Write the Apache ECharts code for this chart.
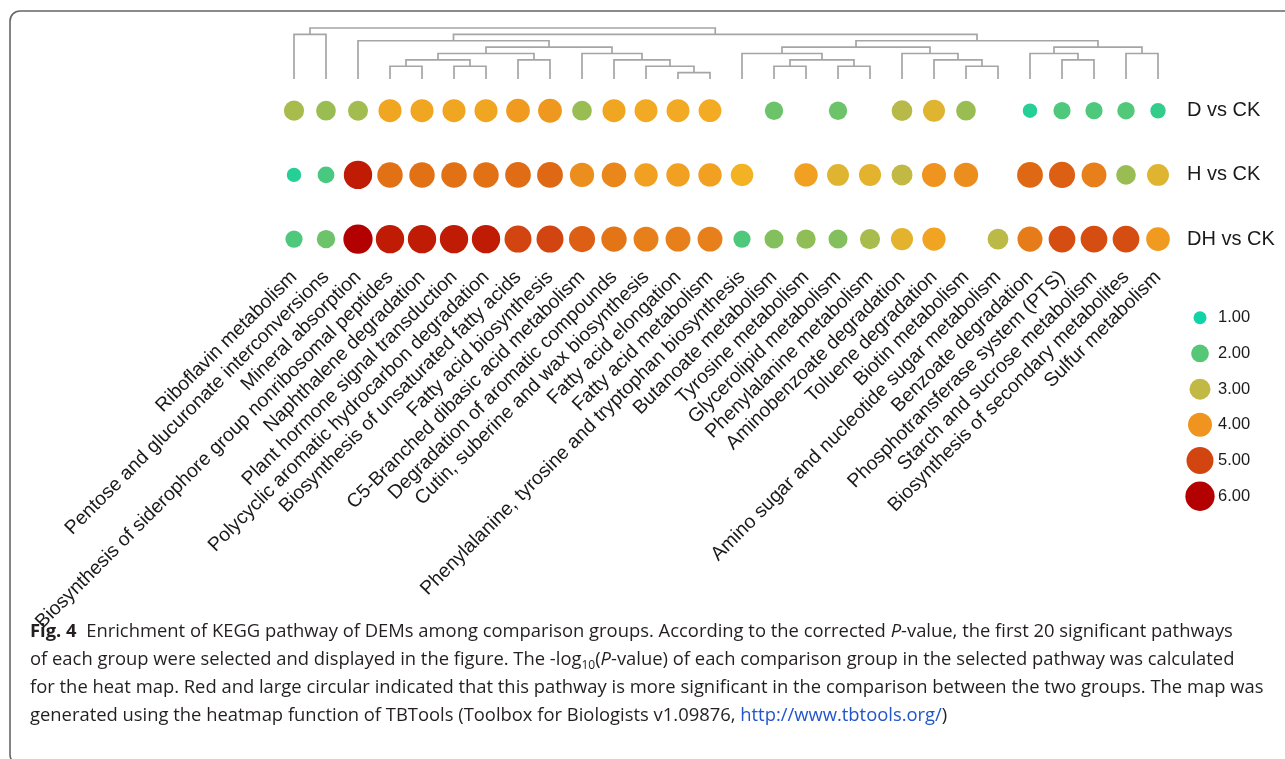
<!DOCTYPE html>
<html>
<head>
<meta charset="utf-8">
<script src="https://cdn.jsdelivr.net/npm/echarts@6/dist/echarts.min.js"></script>
<style>
  html, body { margin: 0; padding: 0; background: #fff; }
  #chart { width: 1285px; height: 759px; }
</style>
</head>
<body>
<div id="chart"></div>
<script>
// KEGG pathways (columns, in dendrogram order)
const pathways = [
  'Riboflavin metabolism',
  'Pentose and glucuronate interconversions',
  'Mineral absorption',
  'Biosynthesis of siderophore group nonribosomal peptides',
  'Naphthalene degradation',
  'Plant hormone signal transduction',
  'Polycyclic aromatic hydrocarbon degradation',
  'Biosynthesis of unsaturated fatty acids',
  'Fatty acid biosynthesis',
  'C5-Branched dibasic acid metabolism',
  'Degradation of aromatic compounds',
  'Cutin, suberine and wax biosynthesis',
  'Fatty acid elongation',
  'Fatty acid metabolism',
  'Phenylalanine, tyrosine and tryptophan biosynthesis',
  'Butanoate metabolism',
  'Tyrosine metabolism',
  'Glycerolipid metabolism',
  'Phenylalanine metabolism',
  'Aminobenzoate degradation',
  'Toluene degradation',
  'Biotin metabolism',
  'Amino sugar and nucleotide sugar metabolism',
  'Benzoate degradation',
  'Phosphotransferase system (PTS)',
  'Starch and sucrose metabolism',
  'Biosynthesis of secondary metabolites',
  'Sulfur metabolism'
];

// Comparison groups (rows)
const groups = ['D vs CK', 'H vs CK', 'DH vs CK'];

// -log10(P-value) per pathway; null = not among the selected pathways of that group
const dVsCk = [2.75, 2.6, 2.7, 3.7, 3.7, 3.7, 3.7, 3.9, 3.95, 2.6, 3.7, 3.65, 3.65, 3.6,
  null, 2.2, null, 2.2, null, 2.9, 3.3, 2.6, null, 1.3, 1.9, 1.9, 1.95, 1.5];
const hVsCk = [1.3, 1.8, 5.6, 4.5, 4.5, 4.5, 4.5, 4.55, 4.6, 4.1, 4.2, 3.8, 3.8, 3.8,
  3.5, null, 3.8, 3.3, 3.35, 3.0, 4.0, 4.1, null, 4.6, 4.7, 4.3, 2.6, 3.3];
const dhVsCk = [1.9, 2.2, 6.0, 5.6, 5.6, 5.6, 5.6, 5.0, 5.0, 4.7, 4.45, 4.3, 4.3, 4.3,
  1.9, 2.4, 2.5, 2.4, 2.75, 3.35, 3.75, null, 2.95, 4.35, 4.9, 4.9, 4.9, 3.9];

// Legend steps
const legendValues = [1, 2, 3, 4, 5, 6];

// Column dendrogram: each merge joins two nodes at a height level.
// Leaves are 0..27; each merge creates node 28, 29, ...
const merges = [
  [0, 1, 7],    // 28
  [3, 4, 2],    // 29
  [5, 6, 2],    // 30
  [29, 30, 3],  // 31
  [7, 8, 3],    // 32
  [31, 32, 4],  // 33
  [12, 13, 1],  // 34
  [11, 34, 2],  // 35
  [10, 35, 3],  // 36
  [9, 36, 4],   // 37
  [33, 37, 5],  // 38
  [2, 38, 6],   // 39
  [15, 16, 2],  // 40
  [17, 18, 2],  // 41
  [40, 41, 3],  // 42
  [14, 42, 4],  // 43
  [21, 22, 2],  // 44
  [20, 44, 3],  // 45
  [19, 45, 4],  // 46
  [43, 46, 5],  // 47
  [24, 25, 3],  // 48
  [23, 48, 4],  // 49
  [26, 27, 4],  // 50
  [49, 50, 5],  // 51
  [47, 51, 6],  // 52
  [39, 52, 7],  // 53
  [28, 53, 8]   // 54
];

// ---- derived structures ----
const rowsData = [dVsCk, hVsCk, dhVsCk];
const cells = [];
rowsData.forEach((row, r) => {
  row.forEach((v, c) => { if (v != null) cells.push([c, r, v]); });
});

// node positions (column units) and heights for dendrogram segments
const nodeX = pathways.map((_, i) => i);
const nodeH = pathways.map(() => 0);
const treeSegments = merges.map(([a, b, h]) => {
  const seg = [nodeX[a], nodeH[a], nodeX[b], nodeH[b], h];
  nodeX.push((nodeX[a] + nodeX[b]) / 2);
  nodeH.push(h);
  return seg;
});

// symbol diameter for a value (piecewise linear through the legend steps)
const sizeStops = [13, 17.7, 21, 24, 27, 29.3];
function sizeFor(v) {
  const t = Math.max(1, Math.min(6, v)) - 1;
  const i = Math.min(4, Math.floor(t));
  const f = t - i;
  return sizeStops[i] + (sizeStops[i + 1] - sizeStops[i]) * f;
}

const chart = echarts.init(document.getElementById('chart'), null, { renderer: 'canvas' });
const labelFont = 'Liberation Sans, Arial, Helvetica, sans-serif';
const captionFont = 'Open Sans, Noto Sans, sans-serif';
const capSize = 18.4;
const capBase = { fontFamily: captionFont, fontSize: capSize, fill: '#231f20', lineHeight: 24 };
const capRich = {
  b: { fontFamily: captionFont, fontSize: capSize, fontWeight: 'bold', fill: '#231f20', lineHeight: 24 },
  i: { fontFamily: captionFont, fontSize: capSize, fontStyle: 'italic', fill: '#231f20', lineHeight: 24 },
  sub: { fontFamily: captionFont, fontSize: 12, fill: '#231f20', lineHeight: 12, verticalAlign: 'bottom' },
  a: { fontFamily: captionFont, fontSize: capSize, fill: '#2255cc', lineHeight: 24 }
};
const captionLines = [
  '{b|Fig. 4}  Enrichment of KEGG pathway of DEMs among comparison groups. According to the corrected {i|P}-value, the first 20 significant pathways',
  'of each group were selected and displayed in the figure. The -log{sub|10}({i|P}-value) of each comparison group in the selected pathway was calculated',
  'for the heat map. Red and large circular indicated that this pathway is more significant in the comparison between the two groups. The map was',
  'generated using the heatmap function of TBTools (Toolbox for Biologists v1.09876, {a|http://www.tbtools.org/})'
];

const option = {
  animation: false,
  backgroundColor: '#ffffff',
  grid: [
    { left: 278, width: 896, top: 78.6, height: 192.6, outerBoundsMode: 'none' },   // bubbles
    { left: 278, width: 896, top: 28, height: 51, outerBoundsMode: 'none' },        // dendrogram
    { left: 1190, width: 20, top: 299.9, height: 214.2, outerBoundsMode: 'none' }   // legend
  ],
  xAxis: [
    {
      gridIndex: 0, type: 'category', data: pathways,
      axisLine: { show: false }, axisTick: { show: false }, splitLine: { show: false },
      axisLabel: { interval: 0, rotate: 45, margin: 3, fontSize: 19.5, color: '#1a1a1a', fontFamily: labelFont }
    },
    { gridIndex: 1, type: 'value', min: -0.5, max: 27.5, show: false },
    { gridIndex: 2, type: 'value', min: 0, max: 1, show: false }
  ],
  yAxis: [
    {
      gridIndex: 0, type: 'category', data: groups, inverse: true, position: 'right',
      axisLine: { show: false }, axisTick: { show: false }, splitLine: { show: false },
      axisLabel: { margin: 13, fontSize: 20, color: '#1a1a1a', fontFamily: labelFont }
    },
    { gridIndex: 1, type: 'value', min: 0, max: 8, show: false },
    {
      gridIndex: 2, type: 'category', data: legendValues.map(v => v.toFixed(2)), inverse: true, position: 'right',
      axisLine: { show: false }, axisTick: { show: false }, splitLine: { show: false },
      axisLabel: { margin: 8, fontSize: 16.5, color: '#1a1a1a', fontFamily: labelFont }
    }
  ],
  visualMap: {
    show: false, type: 'continuous', min: 1, max: 6, dimension: 2, seriesIndex: [0, 2],
    inRange: {
      color: ['#10d3a6', '#34cc8a', '#55c777', '#8fbe56', '#c1b944', '#f3b124',
              '#ef951f', '#e27116', '#d24410', '#c32206', '#b30000']
    }
  },
  series: [
    {
      type: 'scatter', xAxisIndex: 0, yAxisIndex: 0,
      symbol: 'circle',
      symbolSize: val => sizeFor(val[2]),
      itemStyle: { opacity: 1 },
      data: cells,
      silent: true
    },
    {
      type: 'custom', xAxisIndex: 1, yAxisIndex: 1, silent: true,
      data: treeSegments,
      encode: { x: [0, 2], y: [1, 3, 4] },
      renderItem: (params, api) => {
        const p0 = api.coord([api.value(0), api.value(1)]);
        const p1 = api.coord([api.value(0), api.value(4)]);
        const p2 = api.coord([api.value(2), api.value(4)]);
        const p3 = api.coord([api.value(2), api.value(3)]);
        return {
          type: 'polyline',
          shape: { points: [p0, p1, p2, p3] },
          style: { stroke: '#a5a5a5', lineWidth: 1.7, fill: null }
        };
      }
    },
    {
      type: 'scatter', xAxisIndex: 2, yAxisIndex: 2,
      symbol: 'circle',
      symbolSize: val => sizeFor(val[2]),
      itemStyle: { opacity: 1 },
      data: legendValues.map((v, i) => [0.5, i, v]),
      silent: true
    }
  ],
  graphic: [
    {
      type: 'rect', silent: true,
      shape: { x: 10, y: 11, width: 1400, height: 752, r: [10, 0, 0, 8] },
      style: { fill: 'none', stroke: '#666666', lineWidth: 1.6 }
    }
  ].concat(captionLines.map((t, k) => ({
    type: 'text', silent: true,
    x: 30, y: 632 + k * 28,
    style: Object.assign({ text: t, verticalAlign: 'middle', align: 'left', rich: capRich }, capBase)
  })))
};

chart.setOption(option);
</script>
</body>
</html>
